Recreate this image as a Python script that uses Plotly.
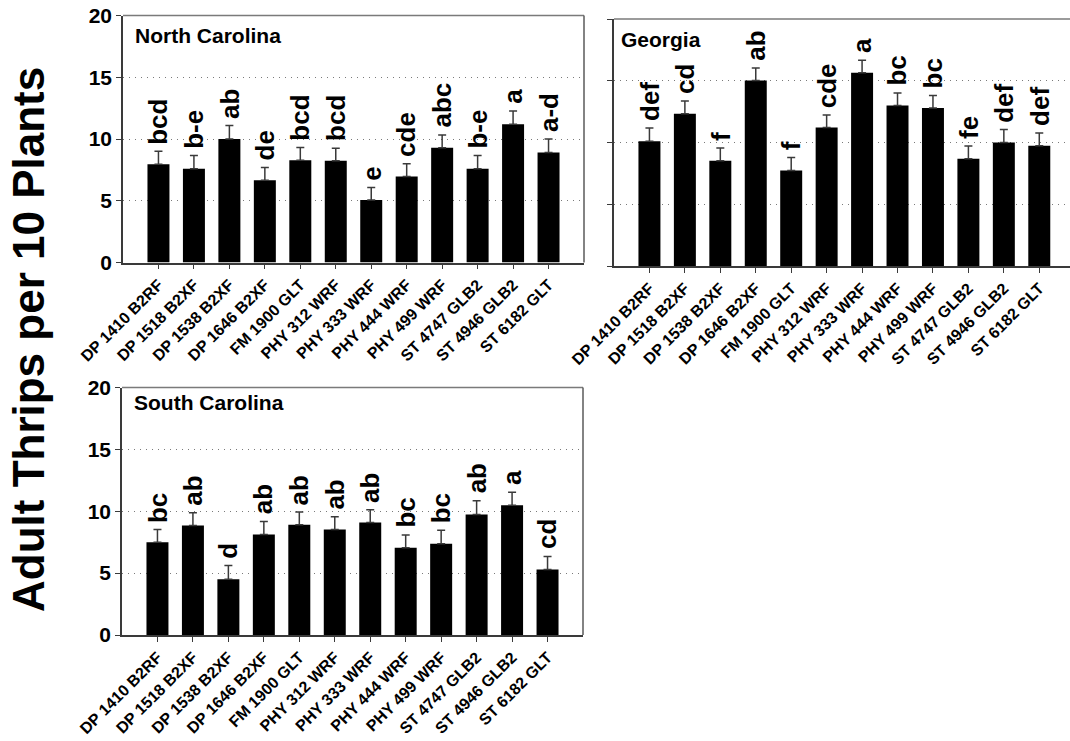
import plotly.graph_objects as go

W, H = 1070, 741

cultivars = ["DP 1410 B2RF", "DP 1518 B2XF", "DP 1538 B2XF", "DP 1646 B2XF",
             "FM 1900 GLT", "PHY 312 WRF", "PHY 333 WRF", "PHY 444 WRF",
             "PHY 499 WRF", "ST 4747 GLB2", "ST 4946 GLB2", "ST 6182 GLT"]

nc_mean = [7.95, 7.6, 10.0, 6.65, 8.28, 8.23, 5.07, 6.97, 9.29, 7.6, 11.2, 8.9]
nc_se = [1.05, 1.07, 1.09, 1.04, 1.04, 1.03, 1.0, 1.03, 1.04, 1.07, 1.06, 1.1]
nc_letters = ["bcd", "b-e", "ab", "de", "bcd", "bcd", "e", "cde", "abc", "b-e", "a", "a-d"]

ga_mean = [10.11, 12.33, 8.52, 15.03, 7.73, 11.22, 15.65, 13.0, 12.79, 8.68, 10.0, 9.73]
ga_se = [1.06, 1.03, 1.03, 1.0, 1.05, 1.0, 1.0, 1.0, 1.02, 1.03, 1.05, 1.03]
ga_letters = ["def", "cd", "f", "ab", "f", "cde", "a", "bc", "bc", "fe", "def", "def"]

sc_mean = [7.49, 8.85, 4.5, 8.12, 8.9, 8.52, 9.09, 7.06, 7.38, 9.74, 10.48, 5.29]
sc_se = [1.03, 1.03, 1.12, 1.06, 1.03, 1.03, 1.03, 1.03, 1.09, 1.11, 1.05, 1.06]
sc_letters = ["bc", "ab", "d", "ab", "ab", "ab", "ab", "bc", "bc", "ab", "a", "cd"]

y_ticks = [0, 5, 10, 15, 20]
y_title = "Adult Thrips per 10 Plants"

FONT = "Liberation Sans"
AX = "#3a3a3a"
GRID = "#7a7a7a"

panels = [
    dict(name="North Carolina", mean=nc_mean, se=nc_se, letters=nc_letters,
         xd=[123 / W, 584 / W], yd=[1 - 262.5 / H, 1 - 15.5 / H], xr=[-1, 12],
         ylabels=True, box=True, tx=133, ty=35.5),
    dict(name="Georgia", mean=ga_mean, se=ga_se, letters=ga_letters,
         xd=[614 / W, 1.0], yd=[1 - 266 / H, 1 - 19 / H], xr=[-1, -1 + (W - 614) / 35.44],
         ylabels=False, box=False, tx=619, ty=40),
    dict(name="South Carolina", mean=sc_mean, se=sc_se, letters=sc_letters,
         xd=[122 / W, 583 / W], yd=[1 - 635 / H, 1 - 387.5 / H], xr=[-1, 12],
         ylabels=True, box=True, tx=132, ty=402.5),
]

fig = go.Figure()
shapes = []

for i, p in enumerate(panels):
    k = "" if i == 0 else str(i + 1)
    xs = list(range(len(cultivars)))
    fig.add_trace(go.Bar(
        x=xs, y=p["mean"], width=0.62,
        marker=dict(color="black", line=dict(width=0)),
        error_y=dict(type="data", array=p["se"], arrayminus=[0] * len(xs),
                     symmetric=False, color=AX, thickness=1.5, width=4),
        xaxis="x" + k, yaxis="y" + k, showlegend=False,
    ))
    fig.layout["xaxis" + k] = dict(
        domain=p["xd"], range=p["xr"], anchor="y" + k, automargin=False,
        tickmode="array", tickvals=xs, ticktext=cultivars, tickangle=-45,
        tickfont=dict(family=FONT, size=16, color="black", weight="bold"),
        ticks="outside", ticklen=5, tickcolor=AX, tickwidth=1,
        showline=True, linecolor=AX, linewidth=1.5, showgrid=False, zeroline=False,
        fixedrange=True,
    )
    fig.layout["yaxis" + k] = dict(
        domain=p["yd"], range=[0, 20], anchor="x" + k, automargin=False,
        tickmode="array", tickvals=y_ticks,
        showticklabels=p["ylabels"],
        tickfont=dict(family=FONT, size=21, color="black", weight="bold"),
        ticks="outside", ticklen=5, tickcolor=AX, tickwidth=1,
        showline=True, linecolor=AX, linewidth=1.5,
        showgrid=True, gridcolor=GRID, griddash="1px,5px", gridwidth=1,
        zeroline=False, fixedrange=True,
    )
    xref = "x" + k
    yref = "y" + k
    for j, (m, s, lt) in enumerate(zip(p["mean"], p["se"], p["letters"])):
        fig.add_annotation(
            x=j, y=m + s, xref=xref, yref=yref, text=lt, textangle=-90,
            showarrow=False, xanchor="center", yanchor="bottom", yshift=5,
            font=dict(family=FONT, size=26, color="black", weight="bold"),
        )
    fig.add_annotation(
        x=p["tx"] / W, y=1 - p["ty"] / H, xref="paper", yref="paper",
        text=p["name"], showarrow=False, xanchor="left", yanchor="middle",
        font=dict(family=FONT, size=21, color="black", weight="bold"),
    )
    shapes.append(dict(type="line", xref=xref + " domain", yref=yref + " domain",
                       x0=0, x1=1, y0=1, y1=1, line=dict(color="#7a7a7a", width=1.5)))
    if p["box"]:
        shapes.append(dict(type="line", xref=xref + " domain", yref=yref + " domain",
                           x0=1, x1=1, y0=0, y1=1, line=dict(color="#5a5a5a", width=1.5)))

fig.add_annotation(
    x=28 / W, y=1 - 340 / H, xref="paper", yref="paper", text=y_title,
    textangle=-90, showarrow=False, xanchor="center", yanchor="middle",
    font=dict(family=FONT, size=44, color="black", weight="bold"),
)

fig.update_layout(
    width=W, height=H, margin=dict(l=0, r=0, t=0, b=0, autoexpand=False),
    paper_bgcolor="white", plot_bgcolor="white",
    shapes=shapes, bargap=0.38,
)

fig.write_html("out.html", config={"displayModeBar": False})
